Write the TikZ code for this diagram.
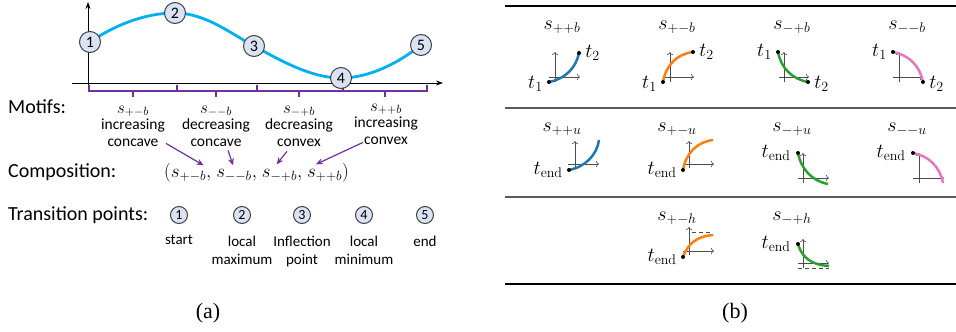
\RequirePackage{fix-cm}
\documentclass[tikz,border=0pt]{standalone}
\usepackage{fontspec}
\newfontfamily\calibri{Carlito}
\newfontfamily\timesrm{Liberation Serif}
\usepackage{amsmath}
\usetikzlibrary{arrows.meta, positioning, backgrounds, calc}

\definecolor{curveblue}{HTML}{00B0F0}
\definecolor{ptfill}{HTML}{DAE3F3}
\definecolor{motifpurple}{HTML}{7030A0}
\definecolor{tabblue}{HTML}{1F77B4}
\definecolor{taborange}{HTML}{FF7F0E}
\definecolor{tabgreen}{HTML}{2CA02C}
\definecolor{tabpink}{HTML}{E377C2}

\tikzstyle{tpoint} = [circle, draw=black!75, fill=ptfill, line width=1pt,
                      minimum size=21pt, inner sep=0pt,
                      font=\calibri\fontsize{16}{16}\selectfont]
\tikzstyle{link}   = [motifpurple, line width=1.2pt, -{Stealth[length=7pt,width=6pt]}]
\newcommand{\motifsym}[1]{{\fontsize{17}{17}\selectfont$s_{#1}$}}

\begin{document}
\begin{tikzpicture}[x=1pt, y=-1pt,
    lbl/.style={anchor=west, inner sep=0pt, font=\calibri\fontsize{20}{24}\selectfont},
    motif/.style={align=center, inner sep=1pt, font=\calibri\fontsize{15.5}{16.5}\selectfont},
    tlab/.style={align=center, inner sep=1pt, font=\calibri\fontsize{15}{18}\selectfont},
    comp/.style={inner sep=1pt, text height=14pt, text depth=5pt,
                 font=\fontsize{19}{21}\selectfont},
    brk/.style={draw=motifpurple, line width=1.1pt},
    ax/.style={draw=black!70, line width=0.6pt, -{To[length=3pt,width=6pt]}},
    crv/.style={line width=2.5pt},
    dot/.style={circle, fill=black, inner sep=0pt, minimum size=4pt},
    mlab/.style={inner sep=1pt, font=\fontsize{20}{22}\selectfont},
    rule/.style={line width=1.7pt}]

  \useasboundingbox (0,0) rectangle (956,332);

  % (a) transition points on the series
  \node[tpoint] (p1) at (90,42)  {1};
  \node[tpoint] (p2) at (175,13) {2};
  \node[tpoint] (p3) at (254,46) {3};
  \node[tpoint] (p4) at (341,78) {4};
  \node[tpoint] (p5) at (421,45) {5};

  \begin{scope}[on background layer]
    \draw[line width=0.8pt, -{Stealth[length=7pt,width=5pt]}] (72,83) -- (443,83);
    \draw[line width=0.8pt, -{Stealth[length=7pt,width=5pt]}] (88,92) -- (88,2);
    \draw[brk] (89,85) |- (177,91) -- (177,85) (133,91) -- (133,97);
    \draw[brk] (177,85) |- (257,91) -- (257,85) (216,91) -- (216,97);
    \draw[brk] (257,85) |- (343,91) -- (343,85) (299,91) -- (299,97);
    \draw[brk] (343,85) |- (427,91) -- (427,85) (385,91) -- (385,97);
    \draw[curveblue, line width=2.8pt]
      (p1.center) .. controls (115,25) and (145,13) .. (p2.center)
                  .. controls (205,13) and (230,33) .. (p3.center)
                  .. controls (278,59) and (310,78) .. (p4.center)
                  .. controls (370,78) and (400,62) .. (p5.center);
  \end{scope}

  \node[lbl] (motifs) at (8,107) {Motifs:};
  \node[motif] (m1) at (133,126) {\motifsym{+-b}\\increasing\\concave};
  \node[motif] (m2) at (216,126) {\motifsym{--b}\\decreasing\\concave};
  \node[motif] (m3) at (299,126) {\motifsym{-+b}\\decreasing\\convex};
  \node[motif] (m4) at (386,124) {\motifsym{++b}\\increasing\\convex};

  \node[lbl] (compo) at (8,172) {Composition:};
  \node[comp, anchor=west] (c1) at (163,173) {$(s_{+-b},$};
  \node[comp, right=2.5pt of c1] (c2) {$s_{--b},$};
  \node[comp, right=2.5pt of c2] (c3) {$s_{-+b},$};
  \node[comp, right=2.5pt of c3] (c4) {$s_{++b})$};

  \draw[link] ($(m1.south east)+(0,-4)$) -- ($(c1.north east)+(-9,3)$);
  \draw[link] ($(m2.south)+(12,3)$) -- ($(c2.north west)+(18,3)$);
  \draw[link] ($(m3.south)+(-12,4)$) -- ($(c3.north west)+(16,2)$);
  \draw[link] ($(m4.south west)+(10,-3)$) -- ($(c4.north west)+(10,2)$);

  \node[lbl] (trans) at (8,215) {Transition points:};
  \node[tpoint, minimum size=17pt, font=\calibri\fontsize{14}{14}\selectfont] (q1) at (179,215) {1};
  \node[tpoint, minimum size=17pt, font=\calibri\fontsize{14}{14}\selectfont] (q2) at (242,215) {2};
  \node[tpoint, minimum size=17pt, font=\calibri\fontsize{14}{14}\selectfont] (q3) at (302,215) {3};
  \node[tpoint, minimum size=17pt, font=\calibri\fontsize{14}{14}\selectfont] (q4) at (364,215) {4};
  \node[tpoint, minimum size=17pt, font=\calibri\fontsize{14}{14}\selectfont] (q5) at (425,215) {5};
  \node[tlab, below=10pt of q1] (l1) {start};
  \node[tlab, below=11pt of q2] (l2) {local\\maximum};
  \node[tlab, below=11pt of q3] (l3) {Inflection\\point};
  \node[tlab, below=11pt of q4] (l4) {local\\minimum};
  \node[tlab, below=11pt of q5] (l5) {end};

  \node[font=\timesrm\fontsize{22}{24}\selectfont] (capa) at (208,313) {(a)};

  % (b) motif catalogue
  \draw[rule] (505,6) -- (956,6);
  \draw[rule, black!65, line width=1.2pt] (505,108) -- (956,108);
  \draw[rule, black!65, line width=1.2pt] (505,197) -- (956,197);
  \draw[rule] (505,284) -- (956,284);

  % bounded motifs
  \node[mlab] (sppb) at (562,27) {$s_{++b}$};
  \node[mlab] (spmb) at (677,27) {$s_{+-b}$};
  \node[mlab] (smpb) at (792,27) {$s_{-+b}$};
  \node[mlab] (smmb) at (907,27) {$s_{--b}$};
  \node[dot] (ppb1) at (549,82) {};
  \node[dot] (ppb2) at (579,53) {};
  \node[dot] (pmb1) at (663,82) {};
  \node[dot] (pmb2) at (693,52) {};
  \node[dot] (mpb1) at (778,52) {};
  \node[dot] (mpb2) at (808,82) {};
  \node[dot] (mmb1) at (893,52) {};
  \node[dot] (mmb2) at (923,82) {};
  \node[mlab, left=3pt of ppb1, yshift=-2pt] (tppb1) {$t_1$};
  \node[mlab, right=3pt of ppb2] (tppb2) {$t_2$};
  \node[mlab, left=3pt of pmb1, yshift=-2pt] (tpmb1) {$t_1$};
  \node[mlab, right=3pt of pmb2] (tpmb2) {$t_2$};
  \node[mlab, left=3pt of mpb1] (tmpb1) {$t_1$};
  \node[mlab, right=3pt of mpb2, yshift=-2pt] (tmpb2) {$t_2$};
  \node[mlab, left=3pt of mmb1] (tmmb1) {$t_1$};
  \node[mlab, right=3pt of mmb2, yshift=-2pt] (tmmb2) {$t_2$};

  % unbounded motifs
  \node[mlab] (sppu) at (562,129) {$s_{++u}$};
  \node[mlab] (spmu) at (677,129) {$s_{+-u}$};
  \node[mlab] (smpu) at (792,129) {$s_{-+u}$};
  \node[mlab] (smmu) at (907,129) {$s_{--u}$};
  \node[dot] (ppu) at (569,170) {};
  \node[dot] (pmu) at (683,170) {};
  \node[dot] (mpu) at (798,153) {};
  \node[dot] (mmu) at (913,153) {};
  \coordinate (ppuend) at (599,140);
  \coordinate (pmuend) at (713,140);
  \coordinate (mpuend) at (828,184);
  \coordinate (mmuend) at (943,183);
  \node[mlab, left=3pt of ppu] (tppu) {$t_{\mathrm{end}}$};
  \node[mlab, left=3pt of pmu] (tpmu) {$t_{\mathrm{end}}$};
  \node[mlab, left=4pt of mpu] (tmpu) {$t_{\mathrm{end}}$};
  \node[mlab, left=4pt of mmu] (tmmu) {$t_{\mathrm{end}}$};

  % horizontal-asymptote motifs
  \node[mlab] (spmh) at (677,218) {$s_{+-h}$};
  \node[mlab] (smph) at (792,218) {$s_{-+h}$};
  \node[dot] (pmh) at (683,257) {};
  \node[dot] (mph) at (798,244) {};
  \coordinate (pmhend) at (713,235);
  \coordinate (mphend) at (829,266);
  \node[mlab, left=3pt of pmh] (tpmh) {$t_{\mathrm{end}}$};
  \node[mlab, left=4pt of mph] (tmph) {$t_{\mathrm{end}}$};

  \begin{scope}[on background layer]
    \draw[ax] (549,77) -- (580,77);  \draw[ax] (555,82) -- (555,52);
    \draw[ax] (664,77) -- (694,77);  \draw[ax] (670,82) -- (670,52);
    \draw[ax] (779,77) -- (809,77);  \draw[ax] (784,82) -- (784,52);
    \draw[ax] (893,77) -- (923,77);  \draw[ax] (899,82) -- (899,52);
    \draw[ax] (568,164) -- (599,164); \draw[ax] (575,168) -- (575,141);
    \draw[ax] (683,164) -- (714,164); \draw[ax] (689,168) -- (689,141);
    \draw[ax] (798,178) -- (829,178); \draw[ax] (803,183) -- (803,153);
    \draw[ax] (913,178) -- (944,178); \draw[ax] (919,183) -- (919,153);
    \draw[ax] (683,251) -- (714,251); \draw[ax] (689,255) -- (689,227);
    \draw[ax] (798,263) -- (829,263); \draw[ax] (803,268) -- (803,239);
    \draw[black!70, line width=0.6pt, dash pattern=on 4pt off 3pt] (692,232) -- (713,232);
    \draw[black!70, line width=0.6pt, dash pattern=on 4pt off 3pt] (798,268) -- (829,268);

    \draw[crv, tabblue]   (ppb1.center) .. controls (565,79) and (576,68) .. (ppb2.center);
    \draw[crv, taborange] (pmb1.center) .. controls (666,65) and (677,54) .. (pmb2.center);
    \draw[crv, tabgreen]  (mpb1.center) .. controls (781,68) and (792,79) .. (mpb2.center);
    \draw[crv, tabpink]   (mmb1.center) .. controls (909,55) and (920,66) .. (mmb2.center);
    \draw[crv, tabblue]   (ppu.center) .. controls (585,167) and (597,155) .. (ppuend);
    \draw[crv, taborange] (pmu.center) .. controls (686,153) and (697,142) .. (pmuend);
    \draw[crv, tabgreen]  (mpu.center) .. controls (801,169) and (812,181) .. (mpuend);
    \draw[crv, tabpink]   (mmu.center) .. controls (929,156) and (940,167) .. (mmuend);
    \draw[crv, taborange] (pmh.center) .. controls (688,243) and (698,236) .. (pmhend);
    \draw[crv, tabgreen]  (mph.center) .. controls (802,258) and (812,265) .. (mphend);
  \end{scope}

  \node[font=\timesrm\fontsize{22}{24}\selectfont] (capb) at (735,313) {(b)};
\end{tikzpicture}
\end{document}
